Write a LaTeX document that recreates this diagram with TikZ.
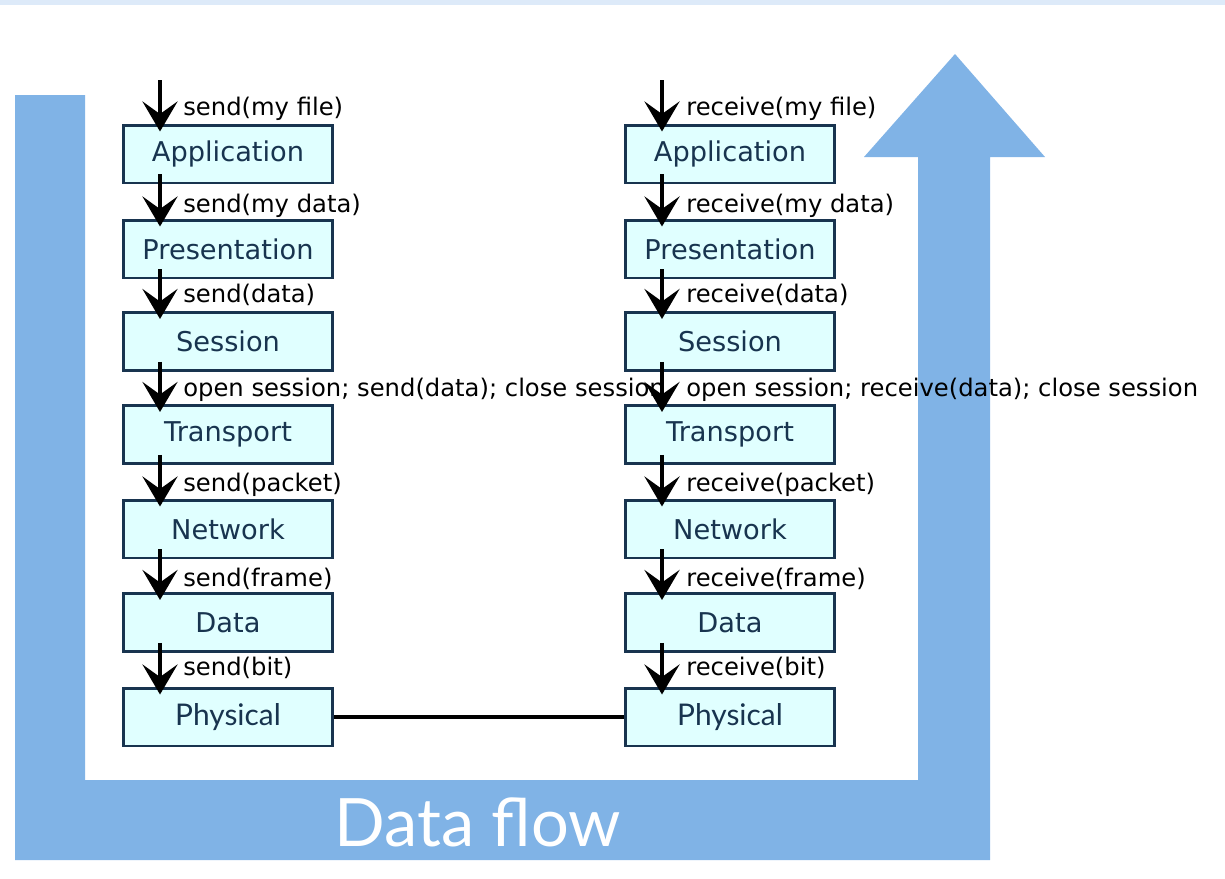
\documentclass[tikz,border=0pt]{standalone}
\usepackage{fontspec}
\setmainfont{DejaVu Sans}
\newfontfamily\gillfont{Lato}
\usetikzlibrary{arrows.meta}
\definecolor{flowblue}{HTML}{80B3E6}
\definecolor{stripblue}{HTML}{DDEAF9}
\definecolor{layerfill}{HTML}{E0FFFF}
\definecolor{layeredge}{HTML}{18344F}
\tikzstyle{layer}=[draw=layeredge, fill=layerfill, line width=1.7pt, minimum width=4.2cm, minimum height=1.16cm, inner sep=0pt, text=layeredge, font=\fontsize{15.5}{18}\selectfont]
\tikzstyle{phys}=[layer, font=\gillfont\fontsize{17}{19}\selectfont]
\tikzstyle{call}=[anchor=base west, inner sep=0pt, font=\fontsize{13.8}{16}\selectfont]
\tikzstyle{pointer}=[draw=black, line width=2.8pt, -{Stealth[length=6mm, width=7mm, inset=2.5mm]}]

\begin{document}
\begin{tikzpicture}[x=0.02cm, y=-0.02cm]
		   \useasboundingbox (0,0) rectangle (1225,879);
		   \fill[stripblue] (0,0) rectangle (1225,5);
		   % the big U shaped data flow arrow
		   \fill[flowblue] (15,95) -- (85,95) -- (85,780) -- (918,780) -- (918,157)
			   -- (864,157) -- (955,54) -- (1045,157) -- (990,157) -- (990,860) -- (15,860) -- cycle;
		   \node (flow) at (478,822) {\gillfont\fontsize{38}{40}\selectfont\color{white}Data flow};
		   \begin{scope}
			   % sender stack
			   \node (appL) at (228,154)[layer] {Application};
			   \node (preL) at (228,249)[layer] {Presentation};
			   \node (sesL) at (228,341.5)[layer] {Session};
			   \node (traL) at (228,434.5)[layer] {Transport};
			   \node (netL) at (228,529)[layer] {Network};
			   \node (datL) at (228,622.5)[layer] {Data};
			   \node (phyL) at (228,717)[phys] {Physical};
			   % receiver stack
			   \node (appR) at (730,154)[layer] {Application};
			   \node (preR) at (730,249)[layer] {Presentation};
			   \node (sesR) at (730,341.5)[layer] {Session};
			   \node (traR) at (730,434.5)[layer] {Transport};
			   \node (netR) at (730,529)[layer] {Network};
			   \node (datR) at (730,622.5)[layer] {Data};
			   \node (phyR) at (730,717)[phys] {Physical};
			   \coordinate (inL) at (160,80);
			   \coordinate (inR) at (662,80);
		   \end{scope}
		   \begin{scope}
			   % calls between the layers
			   \node (c1L) at (183,115)[call] {send(my file)};
			   \node (c2L) at (183,212)[call] {send(my data)};
			   \node (c3L) at (183,302)[call] {send(data)};
			   \node (c4L) at (183,396)[call] {open session; send(data); close session};
			   \node (c5L) at (183,491)[call] {send(packet)};
			   \node (c6L) at (183,586)[call] {send(frame)};
			   \node (c7L) at (183,675)[call] {send(bit)};
			   \node (c1R) at (686,115)[call] {receive(my file)};
			   \node (c2R) at (686,212)[call] {receive(my data)};
			   \node (c3R) at (686,302)[call] {receive(data)};
			   \node (c4R) at (686,396)[call] {open session; receive(data); close session};
			   \node (c5R) at (686,491)[call] {receive(packet)};
			   \node (c6R) at (686,586)[call] {receive(frame)};
			   \node (c7R) at (686,675)[call] {receive(bit)};
		   \end{scope}
		   \begin{scope}
			   \draw[pointer] (inL) -- ([shift={(-68,8)}]appL.north);
			   \draw[pointer] ([shift={(-68,-10)}]appL.south) -- ([shift={(-68,8)}]preL.north);
			   \draw[pointer] ([shift={(-68,-10)}]preL.south) -- ([shift={(-68,8)}]sesL.north);
			   \draw[pointer] ([shift={(-68,-10)}]sesL.south) -- ([shift={(-68,8)}]traL.north);
			   \draw[pointer] ([shift={(-68,-10)}]traL.south) -- ([shift={(-68,8)}]netL.north);
			   \draw[pointer] ([shift={(-68,-10)}]netL.south) -- ([shift={(-68,8)}]datL.north);
			   \draw[pointer] ([shift={(-68,-10)}]datL.south) -- ([shift={(-68,8)}]phyL.north);
			   \draw[pointer] (inR) -- ([shift={(-68,8)}]appR.north);
			   \draw[pointer] ([shift={(-68,-10)}]appR.south) -- ([shift={(-68,8)}]preR.north);
			   \draw[pointer] ([shift={(-68,-10)}]preR.south) -- ([shift={(-68,8)}]sesR.north);
			   \draw[pointer] ([shift={(-68,-10)}]sesR.south) -- ([shift={(-68,8)}]traR.north);
			   \draw[pointer] ([shift={(-68,-10)}]traR.south) -- ([shift={(-68,8)}]netR.north);
			   \draw[pointer] ([shift={(-68,-10)}]netR.south) -- ([shift={(-68,8)}]datR.north);
			   \draw[pointer] ([shift={(-68,-10)}]datR.south) -- ([shift={(-68,8)}]phyR.north);
			   \draw[line width=2.2pt] (phyL) -- (phyR);
		   \end{scope}
	   \end{tikzpicture}
\end{document}
